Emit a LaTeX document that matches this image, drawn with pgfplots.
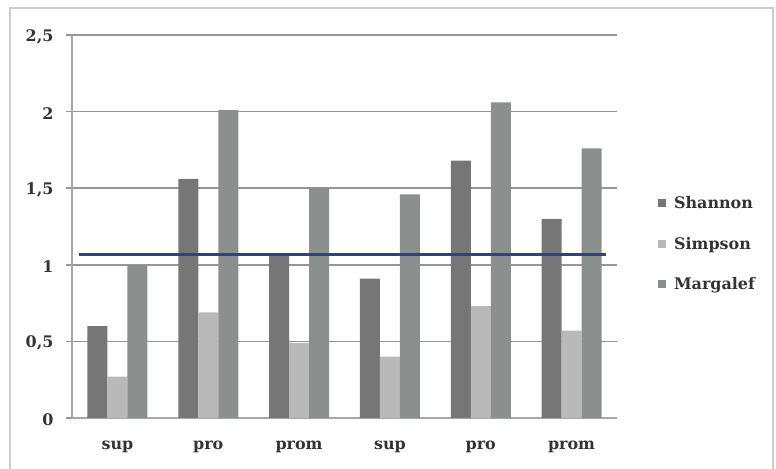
\documentclass[border=0pt]{standalone}
\usepackage{fontspec}
\setmainfont{DejaVu Serif}
\usepackage{pgfplots}
\pgfplotsset{compat=1.18}
\definecolor{shan}{HTML}{767676}
\definecolor{simp}{HTML}{B9B9B9}
\definecolor{marg}{HTML}{8B8F8D}
\definecolor{gridc}{HTML}{969696}
\definecolor{blueline}{HTML}{2E4475}
\begin{document}
\begin{tikzpicture}[x=1bp,y=1bp]
\useasboundingbox (0,0) rectangle (776,469);
\draw[gray!40, line width=1.5bp] (10,0) -- (10,461) -- (773,461) -- (773,0);
\begin{axis}[
    at={(72bp,51bp)}, anchor=south west,
    scale only axis, width=545bp, height=383bp,
    xmin=-0.5, xmax=5.5, ymin=0, ymax=2.5,
    ybar=0pt, bar width=20bp,
    axis x line*=bottom, axis y line*=left,
    axis line style={-, color=gray!70, line width=1.2bp},
    xtick={0,...,5},
    xticklabels={sup,pro,prom,sup,pro,prom},
    xtick style={draw=none},
    extra x ticks={-0.5,0.5,...,5.5},
    extra x tick labels={},
    extra x tick style={grid=none, major tick length=5bp, tick align=outside,
        tick style={draw=gray!70, line width=1.2bp}},
    ytick={0,0.5,...,2.5},
    ytick style={draw=gridc, line width=1.5bp},
    tick align=outside, major tick length=6bp,
    ymajorgrids, grid style={color=gridc, line width=1.5bp},
    /pgf/number format/use comma,
    /pgf/number format/assume math mode=true,
    ticklabel style={font=\fontsize{16}{19}\selectfont\bfseries, text=black!80},
    xticklabel style={yshift=-13bp},
    yticklabel style={xshift=-9bp, yshift=-2bp},
    legend style={at={(1.075,0.455)}, anchor=west, draw=none, fill=none,
        font=\fontsize{16}{19}\selectfont\bfseries, text=black!80,
        row sep=23bp, inner sep=0pt},
    legend cell align=left,
    legend image code/.code={\fill[#1] (0bp,-4bp) rectangle (8bp,4bp); \path (14bp,0bp);},
]
\addplot[fill=shan, draw=none] coordinates {(0,0.60) (1,1.56) (2,1.07) (3,0.91) (4,1.68) (5,1.30)};
\addplot[fill=simp, draw=none] coordinates {(0,0.27) (1,0.69) (2,0.49) (3,0.40) (4,0.73) (5,0.57)};
\addplot[fill=marg, draw=none] coordinates {(0,1.00) (1,2.01) (2,1.50) (3,1.46) (4,2.06) (5,1.76)};
\legend{Shannon,Simpson,Margalef}
\addplot[forget plot, sharp plot, color=blueline, line width=3bp] coordinates {(-0.42,1.07) (5.38,1.07)};
\end{axis}
\end{tikzpicture}
\end{document}
